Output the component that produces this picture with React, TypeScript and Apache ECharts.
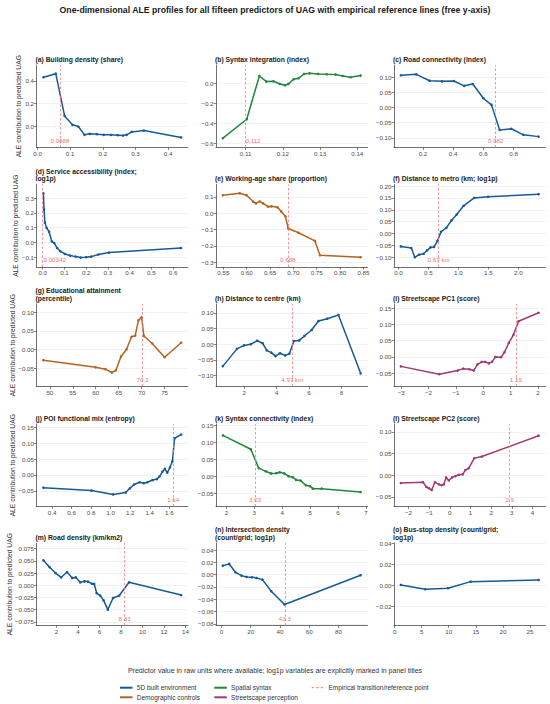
import React, { useEffect, useRef } from "react";
import * as echarts from "echarts";

const FONT = "'Liberation Sans', Arial, Helvetica, sans-serif";

const GROUP_COLORS: Record<string, string> = {
  built: "#175a96",
  demo: "#b4641e",
  syntax: "#1f873c",
  street: "#a03a74",
};
const REF_COLOR = "#f27c7c";
const REF_TEXT = "#e5484d";

const mainTitle =
  "One-dimensional ALE profiles for all fifteen predictors of UAG with empirical reference lines (free y-axis)";
const yTitle = "ALE contribution to predicted UAG";
const xTitle =
  "Predictor value in raw units where available; log1p variables are explicitly marked in panel titles";

const legendRow1 = ["5D built environment", "Spatial syntax", "Empirical transition/reference point"];
const legendRow2 = ["Demographic controls", "Streetscape perception"];

// (a) Building density
const aX = [0.018, 0.056, 0.083, 0.107, 0.125, 0.144, 0.16, 0.182, 0.203, 0.225, 0.246, 0.262, 0.273, 0.289, 0.326, 0.44];
const aY = [0.432, 0.464, 0.093, 0.015, 0.0, -0.073, -0.064, -0.067, -0.073, -0.073, -0.076, -0.079, -0.073, -0.047, -0.035, -0.096];
const aYLim = [-0.184, 0.54];
const aYTicks = [0, 0.2, 0.4];
const aXTicks = [0, 0.1, 0.2, 0.3, 0.4];

// (b) Syntax integration
const bX = [0.1039, 0.1103, 0.1137, 0.1156, 0.1175, 0.1192, 0.1206, 0.1215, 0.1229, 0.1242, 0.1257, 0.1272, 0.1295, 0.1318, 0.1342, 0.1361, 0.1382, 0.1409];
const bY = [-0.55, -0.36, 0.073, 0.017, 0.02, -0.007, -0.02, -0.007, 0.04, 0.05, 0.093, 0.1, 0.093, 0.09, 0.087, 0.073, 0.06, 0.077];
const bYLim = [-0.643, 0.183];
const bYTicks = [-0.6, -0.4, -0.2, 0];
const bXTicks = [0.11, 0.12, 0.13, 0.14];

// (c) Road connectivity
const cX = [0.054, 0.156, 0.244, 0.327, 0.405, 0.473, 0.53, 0.6, 0.654, 0.708, 0.785, 0.865, 0.966];
const cY = [0.107, 0.11, 0.089, 0.087, 0.088, 0.072, 0.078, 0.031, 0.009, -0.074, -0.07, -0.09, -0.096];
const cYLim = [-0.132, 0.141];
const cYTicks = [-0.1, -0.05, 0, 0.05, 0.1];
const cXTicks = [0.2, 0.4, 0.6, 0.8];

// (d) Service accessibility
const dX = [0.003, 0.006, 0.01, 0.018, 0.029, 0.042, 0.053, 0.066, 0.081, 0.102, 0.126, 0.151, 0.175, 0.199, 0.224, 0.256, 0.305, 0.637];
const dY = [0.332, 0.222, 0.134, 0.099, 0.073, 0.007, -0.004, -0.037, -0.059, -0.077, -0.088, -0.095, -0.101, -0.099, -0.095, -0.081, -0.068, -0.037];
const dYLim = [-0.165, 0.391];
const dYTicks = [-0.1, 0, 0.1, 0.2, 0.3];
const dXTicks = [0, 0.1, 0.2, 0.3, 0.4, 0.5, 0.6];

// (e) Working-age share
const eX = [0.549, 0.585, 0.6, 0.614, 0.62, 0.628, 0.635, 0.646, 0.653, 0.666, 0.674, 0.683, 0.689, 0.711, 0.746, 0.757, 0.844];
const eY = [0.11, 0.122, 0.11, 0.07, 0.06, 0.072, 0.06, 0.04, 0.042, 0.036, 0.01, -0.02, -0.094, -0.12, -0.17, -0.258, -0.27];
const eYLim = [-0.33, 0.176];
const eYTicks = [-0.3, -0.2, -0.1, 0, 0.1];
const eXTicks = [0.55, 0.6, 0.65, 0.7, 0.75, 0.8, 0.85];

// (f) Distance to metro
const fX = [0.041, 0.215, 0.273, 0.343, 0.419, 0.477, 0.535, 0.593, 0.651, 0.709, 0.797, 0.884, 0.971, 1.087, 1.262, 1.494, 2.337];
const fY = [-0.055, -0.062, -0.101, -0.09, -0.086, -0.072, -0.059, -0.057, -0.032, 0.007, 0.023, 0.055, 0.08, 0.117, 0.15, 0.155, 0.166];
const fYLim = [-0.142, 0.207];
const fYTicks = [-0.1, -0.05, 0, 0.05, 0.1, 0.15, 0.2];
const fXTicks = [0, 0.5, 1, 1.5, 2];

// (g) Educational attainment
const gX = [48.6, 60.0, 62.1, 63.5, 64.4, 65.5, 66.7, 67.8, 68.6, 69.3, 70.0, 70.5, 72.3, 75.0, 78.6];
const gY = [-0.029, -0.048, -0.053, -0.062, -0.056, -0.019, 0.0, 0.034, 0.037, 0.078, 0.086, 0.036, 0.016, -0.021, 0.018];
const gYLim = [-0.0995, 0.122];
const gYTicks = [-0.05, 0, 0.05, 0.1];
const gXTicks = [50, 55, 60, 65, 70, 75];

// (h) Distance to centre
const hX = [0.68, 1.55, 1.98, 2.41, 2.8, 3.13, 3.39, 3.67, 3.93, 4.21, 4.53, 4.79, 5.07, 5.4, 5.72, 6.16, 6.59, 7.13, 7.82, 9.19];
const hY = [-0.07, -0.015, -0.004, 0.0, 0.011, 0.003, -0.02, -0.027, -0.038, -0.029, -0.036, -0.03, 0.01, 0.012, 0.026, 0.045, 0.074, 0.081, 0.093, -0.093];
const hYLim = [-0.135, 0.128];
const hYTicks = [-0.1, -0.05, 0, 0.05, 0.1];
const hXTicks = [2, 4, 6, 8];

// (i) Streetscape PC1
const iX = [-3.01, -1.61, -0.94, -0.73, -0.51, -0.35, -0.21, -0.06, 0.07, 0.2, 0.32, 0.44, 0.65, 0.77, 0.93, 1.1, 1.29, 2.02];
const iY = [-0.029, -0.053, -0.042, -0.036, -0.038, -0.042, -0.023, -0.015, -0.015, -0.02, -0.015, 0.0, -0.001, 0.014, 0.043, 0.068, 0.11, 0.136];
const iYLim = [-0.091, 0.163];
const iYTicks = [-0.05, 0, 0.05, 0.1, 0.15];
const iXTicks = [-3, -2, -1, 0, 1, 2];

// (j) POI functional mix
const jX = [0.311, 0.804, 1.025, 1.154, 1.196, 1.239, 1.296, 1.339, 1.375, 1.429, 1.471, 1.5, 1.529, 1.554, 1.579, 1.607, 1.632, 1.654, 1.721];
const jY = [-0.04, -0.049, -0.061, -0.055, -0.042, -0.03, -0.023, -0.026, -0.023, -0.016, -0.013, -0.005, 0.01, 0.019, 0.007, 0.024, 0.043, 0.115, 0.127];
const jYLim = [-0.099, 0.16];
const jYTicks = [-0.05, 0, 0.05, 0.1, 0.15];
const jXTicks = [0.4, 0.6, 0.8, 1.0, 1.2, 1.4, 1.6];

// (k) Syntax connectivity
const kX = [1.875, 2.875, 3.16, 3.41, 3.6, 3.79, 3.91, 4.075, 4.225, 4.375, 4.5, 4.66, 4.85, 5.0, 5.1, 5.41, 6.81];
const kY = [0.121, 0.08, 0.024, 0.0145, 0.008, 0.009, 0.0116, 0.008, 0.0, -0.003, -0.011, -0.013, -0.027, -0.03, -0.037, -0.037, -0.047];
const kYLim = [-0.09, 0.155];
const kYTicks = [-0.05, 0, 0.05, 0.1, 0.15];
const kXTicks = [2, 3, 4, 5, 6, 7];

// (l) Streetscape PC2
const lX = [-2.37, -1.3, -1.14, -1.01, -0.88, -0.72, -0.53, -0.4, -0.29, -0.18, -0.05, 0.11, 0.27, 0.43, 0.62, 0.75, 0.91, 1.18, 1.55, 4.3];
const lY = [-0.018, -0.016, -0.027, -0.03, -0.034, -0.016, -0.021, -0.023, -0.021, -0.005, -0.012, -0.005, -0.002, 0.001, 0.002, 0.012, 0.016, 0.039, 0.043, 0.091];
const lYLim = [-0.072, 0.118];
const lYTicks = [-0.05, 0, 0.05, 0.1];
const lXTicks = [-2, -1, 0, 1, 2, 3, 4];

// (m) Road density
const mX = [0.77, 1.35, 1.9, 2.42, 2.97, 3.46, 3.79, 4.2, 4.6, 4.92, 5.31, 5.5, 5.73, 6.06, 6.38, 6.77, 7.26, 7.84, 8.75, 13.6];
const mY = [0.051, 0.037, 0.025, 0.016, 0.027, 0.015, 0.016, 0.006, 0.008, 0.0075, 0.003, 0.003, -0.016, -0.021, -0.031, -0.05, -0.026, -0.021, 0.006, -0.02];
const mYLim = [-0.0824, 0.0865];
const mYTicks = [-0.075, -0.05, -0.025, 0, 0.025, 0.05, 0.075];
const mXTicks = [2, 4, 6, 8, 10, 12, 14];

// (n) Intersection density
const nX = [0.96, 5.27, 9.58, 13.65, 17.2, 20.8, 24.0, 28.0, 34.0, 43.1, 95.1];
const nY = [0.0146, 0.0173, 0.0038, -0.0016, -0.0038, -0.0043, -0.0054, -0.0081, -0.027, -0.0486, -0.001];
const nYLim = [-0.0827, 0.0514];
const nYTicks = [-0.08, -0.06, -0.04, -0.02, 0, 0.02, 0.04];
const nXTicks = [0, 20, 40, 60, 80];

// (o) Bus-stop density
const oX = [1.16, 5.67, 9.86, 14.05, 26.6];
const oY = [0.0006, -0.0035, -0.0025, 0.0038, 0.0054];
const oYLim = [-0.038, 0.0406];
const oYTicks = [-0.02, 0, 0.02, 0.04];
const oXTicks = [0, 5, 10, 15, 20, 25];

// reference points (value, label)
const refValues = [0.0688, 0.112, 0.682, 0.00342, 0.688, 0.67, 70.2, 4.97, 1.19, 1.64, 3.03, 2.9, 8.33, 43.3, null];
const refLabels = ["0.0688", "0.112", "0.682", "0.00342", "0.688", "0.67 km", "70.2", "4.97 km", "1.19", "1.64", "3.03", "2.9", "8.33", "43.3", ""];
const refLabelAlign = ["center", "center", "center", "left", "center", "center", "center", "center", "center", "center", "center", "center", "center", "center", "center"];

const titles = [
  "(a) Building density (share)",
  "(b) Syntax integration (index)",
  "(c) Road connectivity (index)",
  "(d) Service accessibility (index;\nlog1p)",
  "(e) Working-age share (proportion)",
  "(f) Distance to metro (km; log1p)",
  "(g) Educational attainment\n(percentile)",
  "(h) Distance to centre (km)",
  "(i) Streetscape PC1 (score)",
  "(j) POI functional mix (entropy)",
  "(k) Syntax connectivity (index)",
  "(l) Streetscape PC2 (score)",
  "(m) Road density (km/km2)",
  "(n) Intersection density\n(count/grid; log1p)",
  "(o) Bus-stop density (count/grid;\nlog1p)",
];
const groups = ["built", "syntax", "built", "built", "demo", "built", "demo", "built", "street", "built", "syntax", "street", "built", "built", "built"];
const yDecimals = [1, 1, 2, 1, 1, 2, 2, 2, 2, 2, 2, 2, 3, 2, 2];
const xDecimals = [1, 2, 1, 1, 2, 1, 0, 0, 0, 1, 0, 0, 0, 0, 0];

const panelX = [aX, bX, cX, dX, eX, fX, gX, hX, iX, jX, kX, lX, mX, nX, oX];
const panelY = [aY, bY, cY, dY, eY, fY, gY, hY, iY, jY, kY, lY, mY, nY, oY];
const panelYLim = [aYLim, bYLim, cYLim, dYLim, eYLim, fYLim, gYLim, hYLim, iYLim, jYLim, kYLim, lYLim, mYLim, nYLim, oYLim];
const panelYTicks = [aYTicks, bYTicks, cYTicks, dYTicks, eYTicks, fYTicks, gYTicks, hYTicks, iYTicks, jYTicks, kYTicks, lYTicks, mYTicks, nYTicks, oYTicks];
const panelXTicks = [aXTicks, bXTicks, cXTicks, dXTicks, eXTicks, fXTicks, gXTicks, hXTicks, iXTicks, jXTicks, kXTicks, lXTicks, mXTicks, nXTicks, oXTicks];

// layout (px)
const COL_LEFT = [36.5, 216, 394];
const ROW_TOP = [65, 184.5, 304, 424, 543];
const PW = 151.5;
const PH = 82.5;
const Y_TITLE_X = [18, 15.5, 12.5, 12.5, 9];
const TICK_FONT = 6.2;

function fmt(v: number, d: number): string {
  const s = Math.abs(v).toFixed(d);
  return (v < -1e-12 ? "\u2212" : "") + s;
}

function buildOption() {
  const grid: any[] = [];
  const xAxis: any[] = [];
  const yAxis: any[] = [];
  const series: any[] = [];
  const graphic: any[] = [];

  for (let i = 0; i < 15; i++) {
    const r = Math.floor(i / 3);
    const c = i % 3;
    const xs = panelX[i];
    const ys = panelY[i];
    const xMinD = Math.min(...xs);
    const xMaxD = Math.max(...xs);
    const xr = xMaxD - xMinD;
    const color = GROUP_COLORS[groups[i]];
    const [yMin, yMax] = panelYLim[i];

    grid.push({ left: COL_LEFT[c], top: ROW_TOP[r], width: PW, height: PH, containLabel: false });

    const xd = xDecimals[i];
    const yd = yDecimals[i];
    xAxis.push({
      type: "value",
      gridIndex: i,
      min: xMinD - 0.05 * xr,
      max: xMaxD + 0.05 * xr,
      axisLine: { show: true, onZero: false, lineStyle: { color: "#333333", width: 0.7 } },
      axisTick: { show: true, length: 2.5, customValues: panelXTicks[i], lineStyle: { color: "#333333", width: 0.6 } },
      axisLabel: {
        customValues: panelXTicks[i],
        formatter: (v: number) => fmt(v, xd),
        fontSize: TICK_FONT,
        color: "#4d4d4d",
        margin: 2.8,
        fontFamily: FONT,
      },
      splitLine: { show: false },
    });
    yAxis.push({
      type: "value",
      gridIndex: i,
      min: yMin,
      max: yMax,
      axisLine: { show: true, onZero: false, lineStyle: { color: "#333333", width: 0.7 } },
      axisTick: { show: true, length: 2.5, customValues: panelYTicks[i], lineStyle: { color: "#333333", width: 0.6 } },
      axisLabel: {
        customValues: panelYTicks[i],
        formatter: (v: number) => fmt(v, yd),
        fontSize: TICK_FONT,
        color: "#4d4d4d",
        margin: 2.5,
        fontFamily: FONT,
      },
      splitLine: { show: true, lineStyle: { color: "#ebebeb", width: 0.7 } },
    });

    const ref = refValues[i];
    series.push({
      type: "line",
      xAxisIndex: i,
      yAxisIndex: i,
      data: xs.map((xv, j) => [xv, ys[j]]),
      symbol: "circle",
      symbolSize: 2.6,
      showSymbol: true,
      lineStyle: { color, width: 1.5 },
      itemStyle: { color },
      z: 3,
      silent: true,
      markLine:
        ref != null
          ? {
              silent: true,
              symbol: ["none", "none"],
              label: { show: false },
              lineStyle: { color: REF_COLOR, type: [2.5, 2], width: 0.8 },
              data: [{ xAxis: ref }],
              animation: false,
            }
          : undefined,
    });
    if (ref != null) {
      series.push({
        type: "scatter",
        xAxisIndex: i,
        yAxisIndex: i,
        data: [[ref, yMin + 0.085 * (yMax - yMin)]],
        symbolSize: 1,
        itemStyle: { color: "rgba(0,0,0,0)" },
        silent: true,
        z: 4,
        label: {
          show: true,
          position: "inside",
          align: refLabelAlign[i],
          formatter: refLabels[i],
          fontSize: 6.2,
          color: REF_TEXT,
          fontFamily: FONT,
        },
      });
    }

    graphic.push({
      type: "text",
      x: COL_LEFT[c] - 1,
      y: ROW_TOP[r] - 2,
      silent: true,
      style: {
        text: titles[i],
        fontSize: 6.8,
        fontWeight: "bold",
        fontFamily: FONT,
        fill: "#1a1a1a",
        align: "left",
        verticalAlign: "bottom",
        textAlign: "left",
        textVerticalAlign: "bottom",
        lineHeight: 7.5,
      },
    });
  }

  for (let r = 0; r < 5; r++) {
    graphic.push({
      type: "text",
      x: Y_TITLE_X[r],
      y: ROW_TOP[r] + PH / 2,
      rotation: Math.PI / 2,
      silent: true,
      style: {
        text: yTitle,
        fontSize: 6.7,
        fontFamily: FONT,
        fill: "#333333",
        align: "center",
        verticalAlign: "middle",
        textAlign: "center",
        textVerticalAlign: "middle",
      },
    });
  }

  graphic.push({
    type: "text",
    x: 275,
    y: 9.5,
    silent: true,
    style: {
      text: mainTitle,
      fontSize: 8.7,
      fontWeight: "bold",
      fontFamily: FONT,
      fill: "#1a1a1a",
      align: "center",
      verticalAlign: "middle",
      textAlign: "center",
      textVerticalAlign: "middle",
    },
  });
  graphic.push({
    type: "text",
    x: 275,
    y: 670,
    silent: true,
    style: {
      text: xTitle,
      fontSize: 7,
      fontFamily: FONT,
      fill: "#333333",
      align: "center",
      verticalAlign: "middle",
      textAlign: "center",
      textVerticalAlign: "middle",
    },
  });

  // legend
  const legItems = [
    { label: legendRow1[0], color: GROUP_COLORS.built, x: 120, y: 687.7, dash: false },
    { label: legendRow1[1], color: GROUP_COLORS.syntax, x: 214.3, y: 687.7, dash: false },
    { label: legendRow1[2], color: REF_COLOR, x: 311.7, y: 687.7, dash: true },
    { label: legendRow2[0], color: GROUP_COLORS.demo, x: 120, y: 697.3, dash: false },
    { label: legendRow2[1], color: GROUP_COLORS.street, x: 214.3, y: 697.3, dash: false },
  ];
  for (const it of legItems) {
    graphic.push({
      type: "line",
      silent: true,
      shape: { x1: it.x, y1: it.y, x2: it.x + 12.5, y2: it.y },
      style: it.dash
        ? { stroke: it.color, lineWidth: 1, lineDash: [2.5, 2] }
        : { stroke: it.color, lineWidth: 2 },
    });
    graphic.push({
      type: "text",
      x: it.x + 16.8,
      y: it.y,
      silent: true,
      style: {
        text: it.label,
        fontSize: 6.5,
        fontFamily: FONT,
        fill: "#333333",
        align: "left",
        verticalAlign: "middle",
        textAlign: "left",
        textVerticalAlign: "middle",
      },
    });
  }

  return {
    animation: false,
    backgroundColor: "#ffffff",
    textStyle: { fontFamily: FONT },
    grid,
    xAxis,
    yAxis,
    series,
    graphic,
  };
}

export default function App() {
  const ref = useRef<HTMLDivElement>(null);
  useEffect(() => {
    if (!ref.current) return;
    const chart = echarts.init(ref.current, undefined, { renderer: "svg" });
    chart.setOption(buildOption() as any);
    return () => {
      chart.dispose();
    };
  }, []);
  return (
    <div
      ref={ref}
      style={{ position: "fixed", left: 0, top: 0, width: 550, height: 704, background: "#ffffff" }}
    />
  );
}
